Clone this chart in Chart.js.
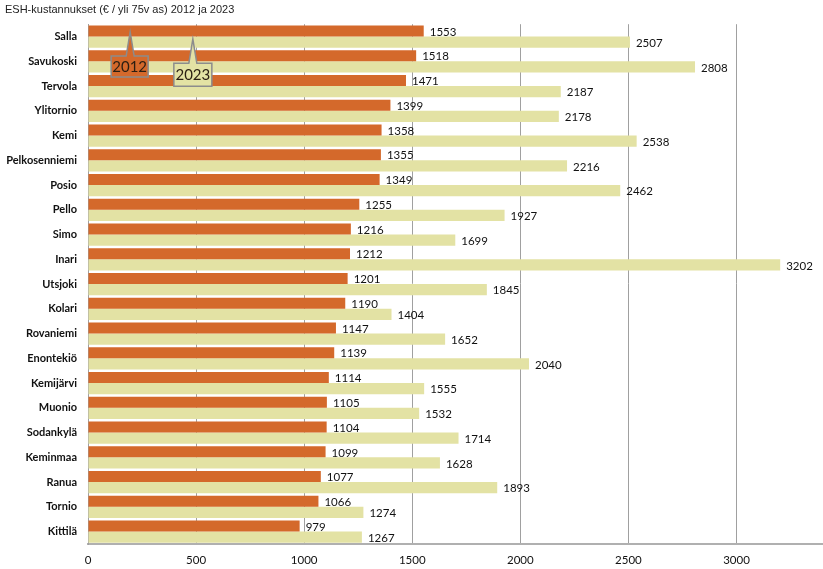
<!DOCTYPE html>
<html>
<head>
<meta charset="utf-8">
<script src="https://cdn.jsdelivr.net/npm/chart.js@4.4.1/dist/chart.umd.min.js"></script>
<style>
  html, body { margin: 0; padding: 0; background: #fff; }
  #wrap { width: 823px; height: 569px; }
</style>
</head>
<body>
<div id="wrap"><canvas id="barChart"></canvas></div>
<script>
// kunnat ja arvot (€ / yli 75v as)
var kunnat = ['Salla', 'Savukoski', 'Tervola', 'Ylitornio', 'Kemi', 'Pelkosenniemi', 'Posio', 'Pello', 'Simo', 'Inari', 'Utsjoki', 'Kolari', 'Rovaniemi', 'Enontekiö', 'Kemijärvi', 'Muonio', 'Sodankylä', 'Keminmaa', 'Ranua', 'Tornio', 'Kittilä'];
var arvot2012 = [1553, 1518, 1471, 1399, 1358, 1355, 1349, 1255, 1216, 1212, 1201, 1190, 1147, 1139, 1114, 1105, 1104, 1099, 1077, 1066, 979];
var arvot2023 = [2507, 2808, 2187, 2178, 2538, 2216, 2462, 1927, 1699, 3202, 1845, 1404, 1652, 2040, 1555, 1532, 1714, 1628, 1893, 1274, 1267];
var vuodet = ['2012', '2023'];
var xTicks = [0, 500, 1000, 1500, 2000, 2500, 3000];

var orange = '#d4692b';
var light = '#e3e2a4';
var narrow = 'Lato, sans-serif';

// numbers at bar ends
var valueLabels = {
    id: 'valueLabels',
    afterDatasetsDraw: function(chart) {
        var ctx = chart.ctx;
        ctx.save();
        ctx.font = '11.5px ' + narrow;
        ctx.fillStyle = '#111';
        ctx.textBaseline = 'middle';
        ctx.textAlign = 'left';
        chart.data.datasets.forEach(function(ds, i) {
            chart.getDatasetMeta(i).data.forEach(function(bar, j) {
                ctx.fillText(ds.data[j], bar.x + 6, bar.y + 1);
            });
        });
        ctx.restore();
    }
};

// the two legend callouts pointing at Salla bars
var callouts = {
    id: 'callouts',
    afterDraw: function(chart) {
        var ctx = chart.ctx;
        var xs = chart.scales.x;
        var items = [
            { ds: 0, val: 195, fill: orange, text: vuodet[0], w: 37, up: 24, h: 21, dy: 1, off: 19 },
            { ds: 1, val: 485, fill: light, text: vuodet[1], w: 38, up: 24, h: 23, dy: -3, off: 19 }
        ];
        items.forEach(function(it) {
            var bar = chart.getDatasetMeta(it.ds).data[0];
            var tx = xs.getPixelForValue(it.val);
            var ty = bar.y + it.dy;
            var L = tx - it.off, R = L + it.w, T = ty + it.up, B = T + it.h;
            ctx.save();
            ctx.beginPath();
            ctx.moveTo(L, T);
            ctx.lineTo(tx - 4, T);
            ctx.lineTo(tx, ty);
            ctx.lineTo(tx + 4, T);
            ctx.lineTo(R, T);
            ctx.lineTo(R, B);
            ctx.lineTo(L, B);
            ctx.closePath();
            ctx.fillStyle = it.fill;
            ctx.fill();
            ctx.lineWidth = 1.5;
            ctx.strokeStyle = '#8c8c8c';
            ctx.stroke();
            ctx.font = '15px ' + narrow;
            ctx.fillStyle = '#2a1e12';
            ctx.textAlign = 'center';
            ctx.textBaseline = 'middle';
            ctx.fillText(it.text, (L + R) / 2, (T + B) / 2 + 1);
            ctx.restore();
        });
    }
};

var ctx = document.getElementById('barChart').getContext('2d');
var barChart = new Chart(ctx, {
    type: 'bar',
    data: {
        labels: kunnat,
        datasets: [{
            label: vuodet[0],
            data: arvot2012,
            backgroundColor: orange
        }, {
            label: vuodet[1],
            data: arvot2023,
            backgroundColor: light
        }]
    },
    options: {
        indexAxis: 'y',
        responsive: true,
        maintainAspectRatio: false,
        animation: false,
        layout: { padding: { left: 5, right: 0, top: 0, bottom: 2 } },
        datasets: {
            bar: { categoryPercentage: 0.9, barPercentage: 1.0 }
        },
        scales: {
            x: {
                min: 0,
                max: 3400,
                afterBuildTicks: function(axis) {
                    axis.ticks = xTicks.map(function(v) { return { value: v }; });
                },
                afterFit: function(axis) { axis.height = 23; },
                grid: { color: '#a0a0a0', lineWidth: 1, drawTicks: false },
                border: { color: '#b0b0b0', width: 2 },
                ticks: {
                    padding: 9,
                    color: '#111',
                    font: { family: narrow, size: 11.5 },
                    callback: function(v) { return String(v); }
                }
            },
            y: {
                grid: { display: false, drawTicks: false },
                border: { color: '#a0a0a0', width: 1 },
                afterFit: function(axis) { axis.width = 83; },
                ticks: {
                    padding: 11,
                    color: '#111',
                    font: { family: narrow, size: 11, weight: 'bold' }
                }
            }
        },
        plugins: {
            legend: { display: false },
            tooltip: { enabled: false },
            title: {
                display: true,
                text: 'ESH-kustannukset (€ / yli 75v as) 2012 ja 2023',
                align: 'start',
                color: '#222',
                font: { family: 'Arial, "Liberation Sans", sans-serif', size: 11, weight: 'normal' },
                padding: { top: 3, bottom: 8 }
            }
        }
    },
    plugins: [valueLabels, callouts]
});
</script>
</body>
</html>
